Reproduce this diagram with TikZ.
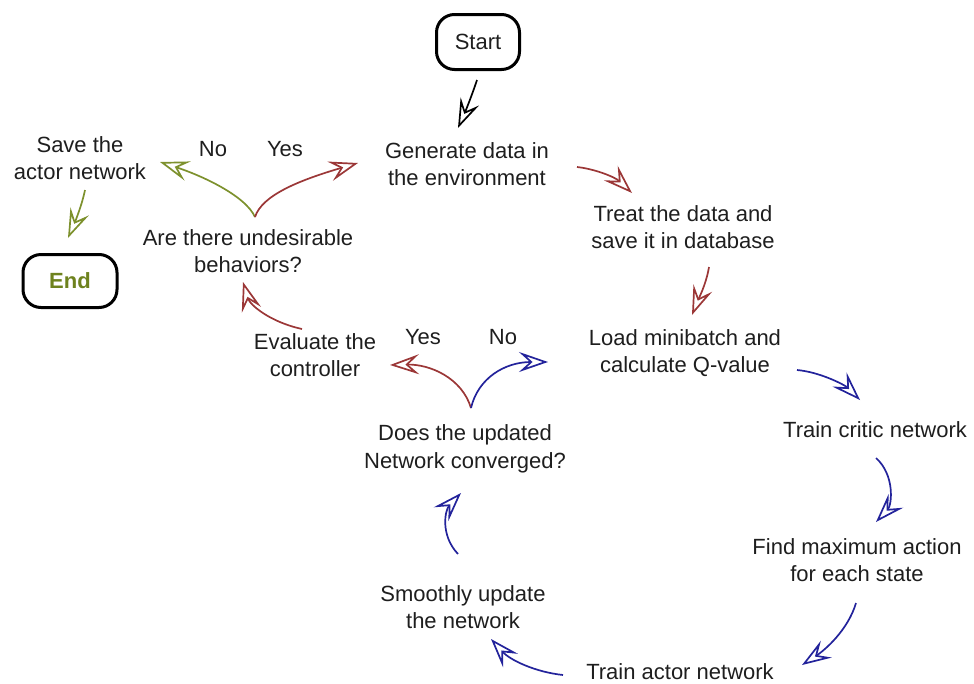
\documentclass[tikz,border=0pt]{standalone}
\usepackage{fontspec}
\setmainfont{Liberation Sans}
\usetikzlibrary{arrows.meta}
\definecolor{txt}{RGB}{30,30,30}
\definecolor{ared}{RGB}{155,55,55}
\definecolor{ablue}{RGB}{35,35,155}
\definecolor{agreen}{RGB}{125,145,45}
\definecolor{endtxt}{RGB}{110,130,30}
\tikzset{
  lbl/.style={align=center, text=txt, inner sep=0pt, font=\fontsize{22}{27.5}\selectfont},
  term/.style={draw=black, line width=3pt, rounded corners=18pt, inner sep=0pt, font=\fontsize{22}{27.5}\selectfont},
  flow/.style={line width=1.7pt, -{Stealth[open, length=29pt, width=20pt, inset=11pt]}},
}
\begin{document}
\begin{tikzpicture}[x=1pt,y=-1pt]
\useasboundingbox (0,0) rectangle (974,683);
% terminals
\node[term, minimum width=83pt, minimum height=55pt, text=txt] (start) at (478,42) {Start};
\node[term, minimum width=94pt, minimum height=53pt, text=endtxt] (end) at (70,281) {\bfseries End};
% labels
\node[lbl] (gen) at (467,164) {Generate data in\\the environment};
\node[lbl] (treat) at (683,227) {Treat the data and\\save it in database};
\node[lbl] (load) at (685,353) {Load minibatch and\\calculate Q-value};
\node[lbl] (critic) at (875,430) {Train critic network};
\node[lbl] (find) at (857,560) {Find maximum action\\for each state};
\node[lbl] (actor) at (680,672) {Train actor network};
\node[lbl] (smooth) at (463,607) {Smoothly update\\the network};
\node[lbl] (does) at (465,449) {Does the updated\\Network converged?};
\node[lbl] (eval) at (315,355) {Evaluate the\\controller};
\node[lbl] (are) at (248,251) {Are there undesirable\\behaviors?};
\node[lbl] (save) at (80,158) {Save the\\actor network};
\node[lbl] (no1) at (213,149) {No};
\node[lbl] (yes1) at (285,149) {Yes};
\node[lbl] (yes2) at (423,337) {Yes};
\node[lbl] (no2) at (503,337) {No};
% arrow end points
\coordinate (s1) at (477,80);  \coordinate (t1) at (458,128);
\coordinate (s2) at (577,167); \coordinate (t2) at (632,193);
\coordinate (s3) at (709,267); \coordinate (t3) at (692,315);
\coordinate (s4) at (797,370); \coordinate (t4) at (860,400);
\coordinate (s5) at (876,458); \coordinate (t5) at (876,522);
\coordinate (s6) at (856,603); \coordinate (t6) at (802,665);
\coordinate (s7) at (563,675); \coordinate (t7) at (491,639);
\coordinate (s8) at (458,554); \coordinate (t8) at (461,493);
\coordinate (p9) at (471,408); \coordinate (t9r) at (390,365); \coordinate (t9b) at (548,362);
\coordinate (s10) at (302,329); \coordinate (t10) at (243,282);
\coordinate (p11) at (255,217); \coordinate (t11g) at (160,162); \coordinate (t11r) at (358,163);
\coordinate (s12) at (85,190); \coordinate (t12) at (68,238);
% arrows
\draw[flow, black] (s1) .. controls (472,95) and (466,110) .. (t1);
\draw[flow, ared] (s2) .. controls (595,169) and (615,177) .. (t2);
\draw[flow, ared] (s3) .. controls (706,285) and (698,300) .. (t3);
\draw[flow, ablue] (s4) .. controls (820,372) and (845,385) .. (t4);
\draw[flow, ablue] (s5) .. controls (895,475) and (892,505) .. (t5);
\draw[flow, ablue] (s6) .. controls (848,630) and (825,650) .. (t6);
\draw[flow, ablue] (s7) .. controls (535,672) and (510,660) .. (t7);
\draw[flow, ablue] (s8) .. controls (440,535) and (445,510) .. (t8);
\draw[flow, ared] (p9) .. controls (462,378) and (430,364) .. (t9r);
\draw[flow, ablue] (p9) .. controls (478,378) and (505,362) .. (t9b);
\draw[flow, ared] (s10) .. controls (270,322) and (250,305) .. (t10);
\draw[flow, agreen] (p11) .. controls (245,195) and (200,175) .. (t11g);
\draw[flow, ared] (p11) .. controls (262,195) and (300,180) .. (t11r);
\draw[flow, agreen] (s12) .. controls (82,205) and (75,222) .. (t12);
\end{tikzpicture}
\end{document}
